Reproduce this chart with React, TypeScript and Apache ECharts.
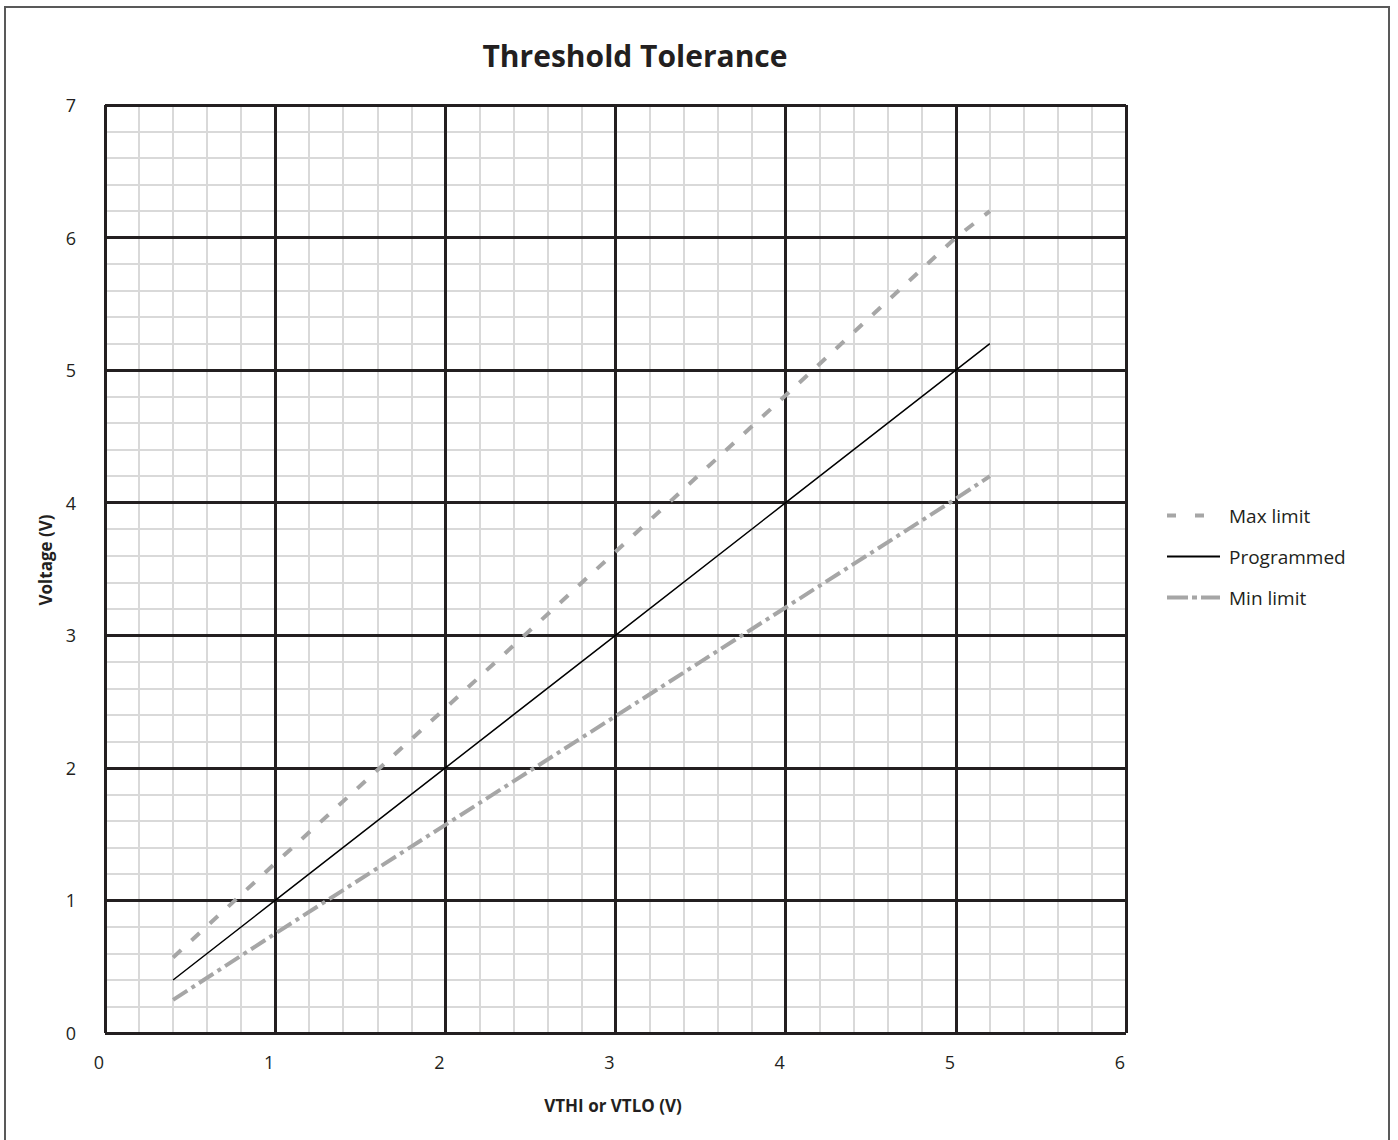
import React, { useEffect, useRef } from "react";
import * as echarts from "echarts";

const xValues = [0.4, 1, 2, 3, 4, 5, 5.2];
const maxLimit = [0.57, 1.28, 2.45, 3.63, 4.81, 6.0, 6.2];
const programmed = [0.4, 1, 2, 3, 4, 5, 5.2];
const minLimit = [0.25, 0.75, 1.57, 2.39, 3.21, 4.03, 4.2];
const seriesNames = ["Max limit", "Programmed", "Min limit"];
const xTicks = [0, 1, 2, 3, 4, 5, 6];
const yTicks = [0, 1, 2, 3, 4, 5, 6, 7];

const FONT = "Open Sans";
const GRAY = "#a6a6a6";
const MAX_DASH = [11, 14];
const MIN_DASH = [17, 5, 4, 5];

export default function App() {
  const ref = useRef<HTMLDivElement>(null);
  useEffect(() => {
    document.body.style.margin = "0";
    const chart = echarts.init(ref.current!, null, { renderer: "svg" });
    const pair = (ys: number[]) => xValues.map((x, i) => [x, ys[i]]);
    const xMax = xTicks[xTicks.length - 1];
    const yMax = yTicks[yTicks.length - 1];
    const grid = { left: 105, top: 105, width: 1021, height: 928, containLabel: false };
    const minorX = {
      type: "value", min: 0, max: xMax, interval: 1, position: "bottom", z: 0,
      axisLine: { show: false }, axisTick: { show: false }, axisLabel: { show: false },
      splitLine: { show: false },
      minorTick: { show: false, splitNumber: 5 },
      minorSplitLine: { show: true, lineStyle: { color: "#d9d9d9", width: 2 } },
    };
    const minorY = {
      type: "value", min: 0, max: yMax, interval: 1, position: "left", z: 0,
      axisLine: { show: false }, axisTick: { show: false }, axisLabel: { show: false },
      splitLine: { show: false },
      minorTick: { show: false, splitNumber: 5 },
      minorSplitLine: { show: true, lineStyle: { color: "#d9d9d9", width: 2 } },
    };
    chart.setOption({
      animation: false,
      backgroundColor: "#ffffff",
      textStyle: { fontFamily: FONT },
      grid,
      xAxis: [
        minorX,
        {
          type: "value", min: 0, max: xMax, interval: 1, position: "bottom", z: 1,
          axisLine: { show: false }, axisTick: { show: false },
          axisLabel: { show: true, fontSize: 18, color: "#231f20", fontFamily: FONT, margin: 20, padding: [0, 12, 0, 0] },
          splitLine: { show: true, lineStyle: { color: "#231f20", width: 3 } },
        },
      ],
      yAxis: [
        minorY,
        {
          type: "value", min: 0, max: yMax, interval: 1, position: "left", z: 1,
          axisLine: { show: false }, axisTick: { show: false },
          axisLabel: { show: true, fontSize: 18, color: "#231f20", fontFamily: FONT, margin: 29 },
          splitLine: { show: true, lineStyle: { color: "#231f20", width: 3 } },
        },
      ],
      legend: {
        orient: "vertical",
        left: 1165,
        top: 506,
        padding: 0,
        itemWidth: 53,
        itemHeight: 14,
        itemGap: 22,
        itemStyle: { opacity: 0 },
        data: [
          { name: seriesNames[0], itemStyle: { opacity: 0 }, lineStyle: { color: GRAY, width: 4, type: [9, 19] } },
          { name: seriesNames[1], itemStyle: { opacity: 0 }, lineStyle: { color: "#000000", width: 2, type: "solid" } },
          { name: seriesNames[2], itemStyle: { opacity: 0 }, lineStyle: { color: GRAY, width: 4, type: [21, 4, 5, 4] } },
        ],
        textStyle: { fontSize: 19, color: "#231f20", fontFamily: FONT, padding: [0, 0, 0, 4] },
      },
      series: [
        {
          name: seriesNames[0], type: "line", xAxisIndex: 1, yAxisIndex: 1, z: 3,
          data: pair(maxLimit), showSymbol: false, symbol: "none",
          itemStyle: { color: GRAY },
          lineStyle: { color: GRAY, width: 4, type: MAX_DASH },
        },
        {
          name: seriesNames[1], type: "line", xAxisIndex: 1, yAxisIndex: 1, z: 3,
          data: pair(programmed), showSymbol: false, symbol: "none",
          itemStyle: { color: "#000000" },
          lineStyle: { color: "#000000", width: 1.5, type: "solid" },
        },
        {
          name: seriesNames[2], type: "line", xAxisIndex: 1, yAxisIndex: 1, z: 3,
          data: pair(minLimit), showSymbol: false, symbol: "none",
          itemStyle: { color: GRAY },
          lineStyle: { color: GRAY, width: 4, type: MIN_DASH },
        },
      ],
      graphic: [
        {
          type: "rect", silent: true, z: -10,
          shape: { x: 5, y: 7, width: 1384, height: 1160 },
          style: { fill: "none", stroke: "#595959", lineWidth: 2 },
        },
        {
          type: "text", x: 635, y: 55,
          style: { text: "Threshold Tolerance", font: `bold 30px "${FONT}"`, fill: "#231f20", align: "center", verticalAlign: "middle" },
        },
        {
          type: "text", x: 613, y: 1105,
          style: { text: "VTHI or VTLO (V)", font: `bold 17px "${FONT}"`, fill: "#231f20", align: "center", verticalAlign: "middle" },
        },
        {
          type: "text", x: 45, y: 560, rotation: Math.PI / 2,
          style: { text: "Voltage (V)", font: `bold 17px "${FONT}"`, fill: "#231f20", align: "center", verticalAlign: "middle" },
        },
      ],
    });
    return () => chart.dispose();
  }, []);
  return <div ref={ref} style={{ width: 1398, height: 1140 }} />;
}
